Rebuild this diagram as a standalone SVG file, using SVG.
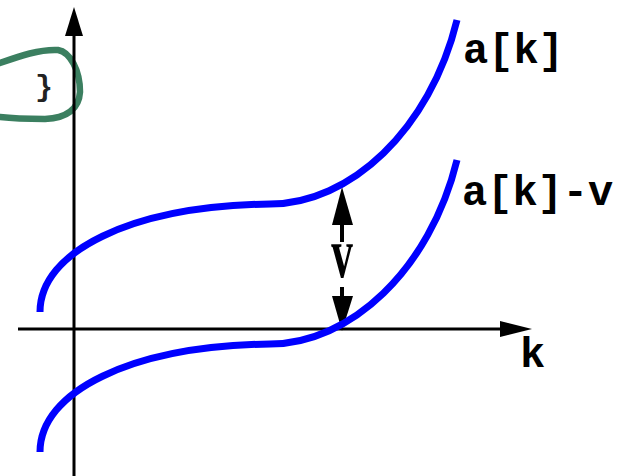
<svg xmlns="http://www.w3.org/2000/svg" width="624" height="476" viewBox="0 0 624 476">
<style>
.curve{fill:none;stroke:#0000ff;stroke-width:7;stroke-linecap:butt}
.axis{stroke:#000;stroke-width:3;fill:none}
.head{fill:#000;stroke:none}
.lbl{font-family:"Liberation Mono","Courier New",monospace;font-weight:bold;font-size:42px;fill:#000}
</style>
<g id="note">
<path d="M0,63 C20,56 40,49 58,50 C70,52 80,70 80,92 C79,108 68,118 45,119 C25,119 8,118 0,117" fill="none" stroke="#3b7f60" stroke-width="6.5" stroke-linecap="round"/>
<text x="44" y="96" text-anchor="middle" font-family="Liberation Mono,monospace" font-weight="bold" font-size="30" fill="#222">}</text>
</g>
<g id="connectors">
<g id="y-axis">
<line class="axis" x1="74" y1="476" x2="74" y2="34"/>
<polygon class="head" points="74,7 65,36 83,36"/>
</g>
<g id="x-axis">
<line class="axis" x1="18" y1="329" x2="504" y2="329"/>
<polygon class="head" points="532,329 500,321 500,337"/>
</g>
<g id="v-arrow">
<line x1="342" y1="222" x2="342" y2="242" stroke="#000" stroke-width="4"/>
<polygon class="head" points="342,187 332,225 353,225"/>
<line x1="342" y1="287" x2="342" y2="299" stroke="#000" stroke-width="4"/>
<polygon class="head" points="342,331 332,296 353,296"/>
</g>
</g>
<g id="curve-a">
<path class="curve" d="M40,312 C40,252 130,206 270,204 C350,204 430,130 457,20"/>
</g>
<g id="curve-av">
<path class="curve" d="M40,452 C40,392 130,346 270,344 C350,344 430,270 457,160"/>
</g>
<g id="labels">
<text class="lbl" x="463" y="63">a[k]</text>
<text class="lbl" x="462" y="205">a[k]-v</text>
<text class="lbl" x="520" y="367">k</text>
<text transform="translate(342,277) scale(0.6,1)" text-anchor="middle" font-family="Liberation Serif,serif" font-weight="bold" font-size="72" fill="#000">v</text>
</g>
</svg>
